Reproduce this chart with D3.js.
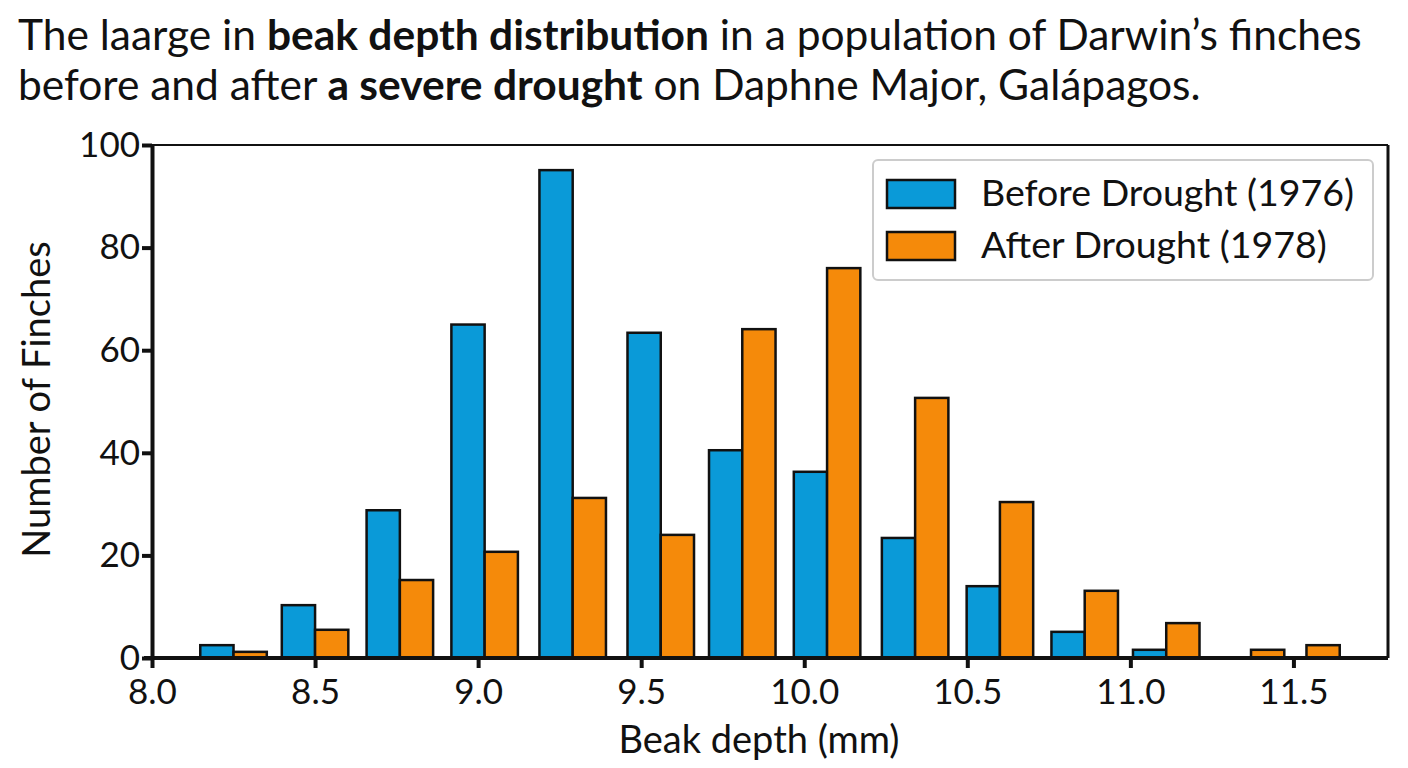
<!DOCTYPE html>
<html><head><meta charset="utf-8">
<style>body{margin:0;background:#fff;} svg{font-family:Lato,"Open Sans",sans-serif;}</style>
</head><body>
<div id="container"></div>
<script src="https://d3js.org/d3.v7.min.js"></script>
<script>
const binCenters = [8.25, 8.50, 8.76, 9.02, 9.29, 9.56, 9.81, 10.07, 10.34, 10.60, 10.86, 11.11, 11.37, 11.54];
const beforeCounts = [2.5, 10.3, 28.8, 65, 95.1, 63.4, 40.5, 36.3, 23.4, 14, 5.1, 1.6, 0, 0];
const afterCounts = [1.2, 5.5, 15.2, 20.7, 31.2, 24, 64.1, 76, 50.7, 30.4, 13.1, 6.8, 1.6, 2.5];
const xTicks = [8.0, 8.5, 9.0, 9.5, 10.0, 10.5, 11.0, 11.5];
const yTicks = [0, 20, 40, 60, 80, 100];
const seriesNames = ["Before Drought (1976)", "After Drought (1978)"];
const colors = ["#0a9ad8", "#f58a0a"];

const W = 1408, H = 768;
const svg = d3.select("#container").append("svg").attr("width", W).attr("height", H);

// title, with bold runs
const title = [
  [["The laarge in ", 400], ["beak depth distribution", 700], [" in a population of Darwin\u2019s finches", 400]],
  [["before and after ", 400], ["a severe drought", 700], [" on Daphne Major, Gal\u00e1pagos.", 400]]
];
title.forEach((line, i) => {
  const t = svg.append("text").attr("x", 18).attr("y", 50 + i * 50).attr("font-size", 42.5).attr("fill", "#111");
  line.forEach(([s, w]) => t.append("tspan").attr("font-weight", w).text(s));
});

const m = { left: 152, right: 1388, top: 145, bottom: 658 };
const x = d3.scaleLinear().domain([8.0, 11.79]).range([m.left, m.right]);
const y = d3.scaleLinear().domain([0, 100]).range([m.bottom, m.top]);
const bw = x(8.102) - x(8.0);

const g = svg.append("g");
binCenters.forEach((c, i) => {
  [beforeCounts[i], afterCounts[i]].forEach((v, k) => {
    if (!v) return;
    g.append("rect")
      .attr("x", k === 0 ? x(c) - bw : x(c))
      .attr("y", y(v)).attr("width", bw).attr("height", y(0) - y(v))
      .attr("fill", colors[k]).attr("stroke", "#111").attr("stroke-width", 2.5);
  });
});

// axes
const xa = svg.append("g").attr("transform", `translate(0,${m.bottom})`)
  .call(d3.axisBottom(x).tickValues(xTicks).tickFormat(d3.format(".1f")).tickSize(10).tickSizeOuter(0));
const ya = svg.append("g").attr("transform", `translate(${m.left},0)`)
  .call(d3.axisLeft(y).tickValues(yTicks).tickSize(10).tickSizeOuter(0));
[xa, ya].forEach(a => {
  a.select(".domain").attr("stroke", "#111").attr("stroke-width", 4);
  a.selectAll(".tick line").attr("stroke", "#111").attr("stroke-width", 4);
  a.selectAll("text").attr("font-size", 35).attr("fill", "#111").attr("font-family", "Lato,sans-serif");
});
xa.select(".domain").attr("d", `M${m.left - 8},0H${m.right}`);
xa.selectAll(".tick text").attr("dy", "0.95em");
ya.selectAll(".tick text").attr("x", -12);
// right frame
svg.append("line").attr("x1", m.right).attr("x2", m.right).attr("y1", m.top).attr("y2", m.bottom).attr("stroke", "#111").attr("stroke-width", 3);
svg.append("line").attr("x1", m.left).attr("x2", m.right).attr("y1", m.top).attr("y2", m.top).attr("stroke", "#111").attr("stroke-width", 2);

svg.append("text").attr("x", (m.left + m.right) / 2 - 11).attr("y", 753).attr("text-anchor", "middle")
  .attr("font-size", 38).attr("fill", "#111").text("Beak depth (mm)");
svg.append("text").attr("transform", `translate(50,${(m.top + m.bottom) / 2 - 2}) rotate(-90)`)
  .attr("text-anchor", "middle").attr("font-size", 38).attr("fill", "#111").text("Number of Finches");

// legend
const lg = svg.append("g").attr("transform", "translate(873,160)");
lg.append("rect").attr("width", 500).attr("height", 120).attr("rx", 5)
  .attr("fill", "#fff").attr("stroke", "#ccc").attr("stroke-width", 2);
seriesNames.forEach((n, i) => {
  lg.append("rect").attr("x", 14).attr("y", 20 + i * 52).attr("width", 68).attr("height", 28)
    .attr("fill", colors[i]).attr("stroke", "#111").attr("stroke-width", 2.5);
  lg.append("text").attr("x", 108).attr("y", 46 + i * 52).attr("font-size", 37.5).attr("fill", "#111").text(n);
});
</script>
</body></html>
